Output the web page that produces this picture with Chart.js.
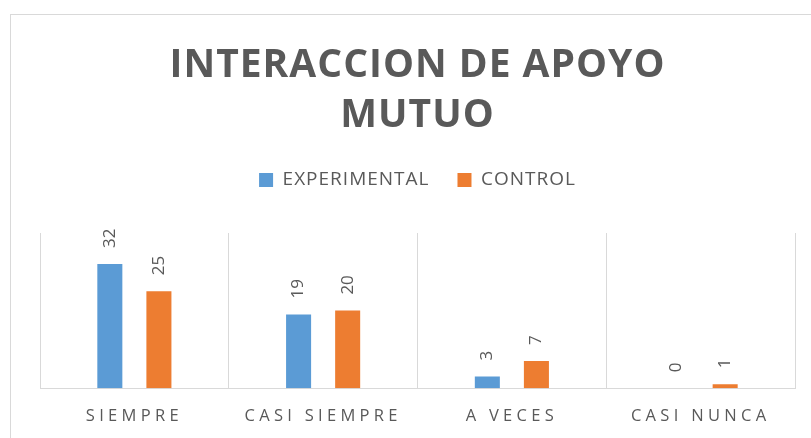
<!DOCTYPE html>
<html>
<head>
<meta charset="utf-8">
<script src="https://cdn.jsdelivr.net/npm/chart.js@4.4.1/dist/chart.umd.min.js"></script>
<style>
  html, body { margin: 0; padding: 0; background: #fff; overflow: hidden; }
  .frame { position: absolute; left: 10px; top: 14px; width: 1000px; height: 1000px; border: 1px solid #d9d9d9; }
  /* a bit taller than the window: the bottom strip is cut off like the original */
  .wrap { position: absolute; left: 0; top: 0; width: 811px; height: 445px; }
</style>
</head>
<body>
<div class="frame"></div>
<div class="wrap"><canvas id="chart"></canvas></div>
<script>
const categories = ['SIEMPRE', 'CASI SIEMPRE', 'A VECES', 'CASI NUNCA']
const experimental = [32, 19, 3, 0]
const control = [25, 20, 7, 1]

const gray = '#595959'

// rotated value labels above bars + letter spacing for text
const barText = {
  id: 'barText',
  beforeUpdate(chart) { chart.ctx.letterSpacing = '1px' },
  beforeDraw(chart) { chart.ctx.letterSpacing = '1px' },
  afterDatasetsDraw(chart) {
    const ctx = chart.ctx
    ctx.save()
    ctx.letterSpacing = '0px'
    ctx.fillStyle = gray
    ctx.font = '17px "Open Sans"'
    ctx.textAlign = 'left'
    ctx.textBaseline = 'middle'
    chart.data.datasets.forEach((ds, i) => {
      chart.getDatasetMeta(i).data.forEach((bar, j) => {
        ctx.save()
        ctx.translate(bar.x, bar.y - 16)
        ctx.rotate(-Math.PI / 2)
        ctx.fillText(ds.data[j], 0, 0)
        ctx.restore()
      })
    })
    ctx.restore()
    // category labels are drawn after this (ticks.z = 1)
    ctx.letterSpacing = '4.3px'
  },
  afterDraw(chart) { chart.ctx.letterSpacing = '1px' }
}

const ctx = document.getElementById('chart')
new Chart(ctx, {
  type: 'bar',
  data: {
    labels: categories,
    datasets: [{
      label: 'EXPERIMENTAL',
      data: experimental,
      backgroundColor: '#5b9bd5',
      borderWidth: 0,
      categoryPercentage: 0.52,
      barPercentage: 0.51
    }, {
      label: 'CONTROL',
      data: control,
      backgroundColor: '#ed7d31',
      borderWidth: 0,
      categoryPercentage: 0.52,
      barPercentage: 0.51
    }]
  },
  options: {
    responsive: true,
    maintainAspectRatio: false,
    animation: false,
    layout: {
      padding: { left: 40, right: 16, top: 0, bottom: 0 }
    },
    plugins: {
      title: {
        display: true,
        text: ['INTERACCION DE APOYO', 'MUTUO'],
        color: gray,
        font: { family: 'Open Sans', size: 39, weight: 'bold', lineHeight: '50.5px' },
        padding: { top: 40.5, bottom: 1 }
      },
      legend: {
        labels: {
          color: gray,
          font: { family: 'Open Sans', size: 19 },
          boxWidth: 14,
          boxHeight: 14,
          padding: 28
        }
      },
      // empty spacer between legend and plot
      subtitle: {
        display: true,
        text: '',
        weight: 500,
        padding: 0,
        font: { size: 10, lineHeight: '33.5px' }
      },
      tooltip: { enabled: false }
    },
    scales: {
      x: {
        grid: { color: '#d9d9d9', offset: true, drawTicks: false },
        border: { color: '#d9d9d9' },
        ticks: {
          color: gray,
          font: { family: 'Open Sans', size: 16.5 },
          padding: 18.5,
          z: 1,
          maxRotation: 0,
          autoSkip: false
        }
      },
      y: {
        display: false,
        min: 0,
        max: 40
      }
    }
  },
  plugins: [barText]
})
</script>
</body>
</html>
